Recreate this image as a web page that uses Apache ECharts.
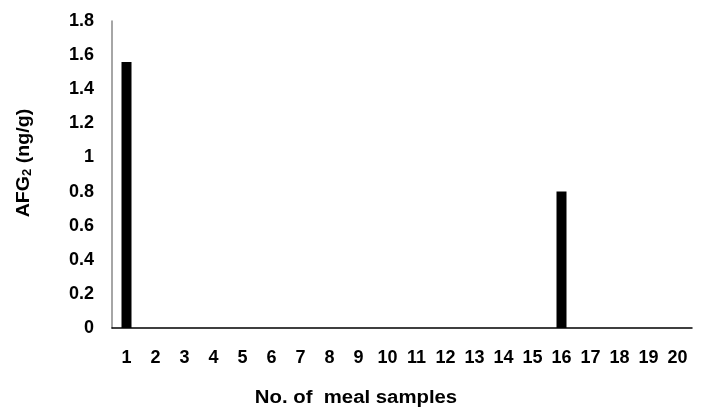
<!DOCTYPE html>
<html>
<head>
<meta charset="utf-8">
<script src="https://cdn.jsdelivr.net/npm/echarts@6/dist/echarts.min.js"></script>
<style>html,body{margin:0;padding:0;background:#fff;}#c{width:706px;height:410px;}</style>
</head>
<body>
<div id="c"></div>
<script>
var categories = ['1','2','3','4','5','6','7','8','9','10','11','12','13','14','15','16','17','18','19','20'];
var values = [1.56,0,0,0,0,0,0,0,0,0,0,0,0,0,0,0.8,0,0,0,0];
var yTicks = [0,0.2,0.4,0.6,0.8,1,1.2,1.4,1.6,1.8];

var chart = echarts.init(document.getElementById('c'), null, {renderer:'canvas'});
var font = 'Liberation Sans, Arial, sans-serif';
chart.setOption({
  animation:false,
  backgroundColor:'#fff',
  grid:{left:112,right:14,top:21,bottom:82},
  xAxis:{
    type:'category',
    data:categories,
    axisLine:{lineStyle:{color:'#000',width:1.5}},
    axisTick:{show:false},
    axisLabel:{color:'#000',fontWeight:'bold',fontSize:18,fontFamily:font,margin:21}
  },
  yAxis:{
    type:'value',
    min:0,max:1.8,interval:0.2,
    axisLine:{show:true,lineStyle:{color:'#888',width:1.5}},
    axisTick:{show:false},
    splitLine:{show:false},
    axisLabel:{color:'#000',fontWeight:'bold',fontSize:18,fontFamily:font,margin:18,
      formatter:function(v){var r=yTicks.filter(function(t){return Math.abs(t-v)<1e-9;});return r.length?String(r[0]):'';}}
  },
  graphic:[
    {type:'text',x:356,y:398,scaleX:1.13,style:{text:'No. of  meal samples',fill:'#000',font:'bold 18px '+font,align:'center',verticalAlign:'middle'}},
    {type:'text',x:24,y:163,rotation:Math.PI/2,scaleX:1.09,
      style:{text:'{a|AFG}{s|2}{a| (ng/g)}',align:'center',verticalAlign:'middle',
        rich:{a:{fill:'#000',font:'bold 18px '+font},s:{fill:'#000',font:'bold 12px '+font,verticalAlign:'bottom',padding:[8,0,0,0]}}}}
  ],
  series:[{
    type:'bar',
    data:values,
    barWidth:10,
    itemStyle:{color:'#000'}
  }]
});
</script>
</body>
</html>
